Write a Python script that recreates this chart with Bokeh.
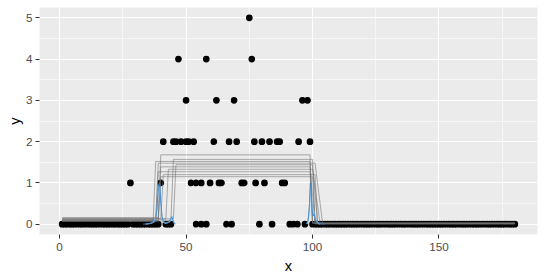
from bokeh.plotting import figure
from bokeh.models import Range1d, FixedTicker
from bokeh.embed import file_html
from bokeh.resources import INLINE

# ---- data ----
zero_x = (list(range(1, 28)) + list(range(29, 40)) +
          [42, 43, 44, 54, 56, 58, 66, 68, 79, 84, 91, 92.5, 94, 97] +
          list(range(100, 181)))
one_x = [28, 40, 52, 54, 56, 59.5, 63, 64, 72, 73, 77.5, 81, 88, 89]
two_x = [41, 45, 46, 48, 50, 51, 53, 61, 67, 70, 77, 80, 83, 86, 87, 94.5, 99]
three_x = [50, 62, 69, 96, 98]
four_x = [47, 58, 76]
five_x = [75]

pt_x = zero_x + one_x + two_x + three_x + four_x + five_x
pt_y = ([0] * len(zero_x) + [1] * len(one_x) + [2] * len(two_x) +
        [3] * len(three_x) + [4] * len(four_x) + [5] * len(five_x))

# step-like sample lines: breakpoints and levels
gray_x = [
    [1, 39, 40, 99, 100, 180],
    [1, 44, 45, 100, 101, 180],
    [1, 37, 38, 99, 100, 180],
    [1, 45, 46, 100, 102, 180],
    [1, 39, 40, 99, 101, 180],
    [1, 42, 43, 100, 103, 180],
    [1, 38, 39, 99, 100, 180],
    [1, 40, 41, 101, 102, 180],
    [1, 39, 40, 100, 101, 180],
    [1, 38, 39, 101, 104, 180],
]
gray_y = [
    [0.16, 0.16, 1.68, 1.68, 0.02, 0.02],
    [0.08, 0.08, 1.57, 1.57, 0.01, 0.01],
    [0.11, 0.11, 1.52, 1.52, 0.03, 0.03],
    [0.13, 0.13, 1.44, 1.44, 0.02, 0.02],
    [0.09, 0.09, 1.39, 1.39, 0.01, 0.01],
    [0.12, 0.12, 1.33, 1.33, 0.02, 0.02],
    [0.07, 0.07, 1.27, 1.27, 0.03, 0.03],
    [0.14, 0.14, 1.20, 1.20, 0.01, 0.01],
    [0.07, 0.07, 1.15, 1.15, 0.02, 0.02],
    [0.10, 0.10, 1.48, 1.48, 0.01, 0.01],
]

blue_dark_x = [
    [33, 35, 36.5, 37.5, 38.3, 38.8, 39.2, 39.6, 40.0, 40.5, 41, 42, 43, 43.8, 44.4, 45, 45.8],
    [97.5, 98.3, 98.8, 99.1, 99.4, 99.8, 100.2, 100.6, 101.2, 102, 103, 104.6],
]
blue_dark_y = [
    [0.0, 0.01, 0.03, 0.05, 0.25, 0.7, 0.98, 1.0, 0.55, 0.18, 0.06, 0.03, 0.04, 0.12, 0.18, 0.05, 0.0],
    [0.0, 0.1, 0.5, 1.0, 0.95, 0.35, 0.2, 0.25, 0.1, 0.04, 0.01, 0.0],
]
blue_light_x = [
    [34, 36, 37.5, 38.5, 39.0, 39.4, 39.8, 40.3, 41, 42, 43.5, 44.2, 44.8, 45.6],
    [98, 98.7, 99.2, 99.6, 100.0, 100.5, 101, 101.8, 103],
]
blue_light_y = [
    [0.0, 0.02, 0.06, 0.35, 0.8, 0.9, 0.7, 0.25, 0.05, 0.02, 0.06, 0.2, 0.1, 0.0],
    [0.0, 0.3, 0.85, 0.6, 0.25, 0.3, 0.15, 0.05, 0.0],
]

x_ticks = [0, 50, 100, 150]
y_ticks = [0, 1, 2, 3, 4, 5]
x_label = "x"
y_label = "y"

# ---- figure ----
FONT = "Liberation Sans"
p = figure(width=545, height=280, output_backend="svg", toolbar_location=None,
           x_range=Range1d(-7.95, 188.95), y_range=Range1d(-0.25, 5.25))
p.min_border_left = 39
p.min_border_right = 8
p.min_border_top = 7
p.min_border_bottom = 46
p.background_fill_color = "#EBEBEB"
p.border_fill_color = "white"
p.outline_line_color = None

p.xaxis.ticker = FixedTicker(ticks=x_ticks, minor_ticks=[25, 75, 125, 175])
p.yaxis.ticker = FixedTicker(ticks=y_ticks, minor_ticks=[0.5, 1.5, 2.5, 3.5, 4.5])

for g in (p.xgrid, p.ygrid):
    g.grid_line_color = "white"
    g.grid_line_width = 1.1
    g.minor_grid_line_color = "white"
    g.minor_grid_line_width = 0.55

for ax in (p.xaxis, p.yaxis):
    ax.axis_line_color = None
    ax.major_tick_line_color = "#333333"
    ax.major_tick_out = 4
    ax.major_tick_in = 0
    ax.minor_tick_line_color = None
    ax.major_label_text_color = "#4D4D4D"
    ax.major_label_text_font = FONT
    ax.major_label_text_font_size = "11.7px"
    ax.axis_label_text_font = FONT
    ax.axis_label_text_font_size = "14.7px"
    ax.axis_label_text_font_style = "normal"
    ax.axis_label_text_color = "black"

p.xaxis.axis_label = x_label
p.yaxis.axis_label = y_label
p.xaxis.major_label_standoff = 4
p.yaxis.major_label_standoff = 3
p.xaxis.axis_label_standoff = 4
p.yaxis.axis_label_standoff = 0

p.scatter(pt_x, pt_y, size=5.5, fill_color="black", line_color="black", line_width=1.2)
p.multi_line(gray_x, gray_y, line_color="#6E6E6E", line_alpha=0.55, line_width=1)
p.multi_line(blue_light_x, blue_light_y, line_color="#8DBFE8", line_alpha=0.9, line_width=1.3)
p.multi_line(blue_dark_x, blue_dark_y, line_color="#3D85C6", line_alpha=0.85, line_width=1)

open("out.html", "w").write(file_html(p, INLINE))
